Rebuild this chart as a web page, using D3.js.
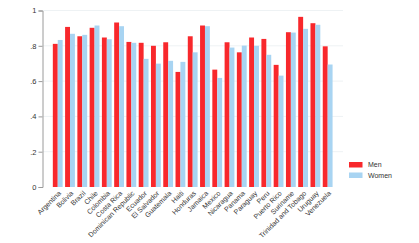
<!DOCTYPE html>
<html><head><meta charset="utf-8">
<script src="https://cdn.jsdelivr.net/npm/d3@7"></script>
<style>body{margin:0;background:#fff}svg{display:block}text{font-family:"Liberation Sans",Arial,sans-serif}</style>
</head><body><svg id="c" width="419" height="243"></svg>
<script>
const countries = ["Argentina","Bolivia","Brazil","Chile","Colombia","Costa Rica","Dominican Republic","Ecuador","El Salvador","Guatemala","Haiti","Honduras","Jamaica","Mexico","Nicaragua","Panama","Paraguay","Peru","Puerto Rico","Suriname","Trinidad and Tobago","Uruguay","Venezuela"];
const men   = [0.811,0.907,0.854,0.902,0.847,0.932,0.822,0.817,0.800,0.820,0.652,0.854,0.915,0.665,0.820,0.763,0.847,0.839,0.692,0.877,0.964,0.928,0.797];
const women = [0.833,0.868,0.862,0.915,0.837,0.911,0.817,0.726,0.699,0.715,0.709,0.763,0.911,0.618,0.790,0.801,0.800,0.749,0.631,0.875,0.896,0.919,0.694];
const yTicks = [0,0.2,0.4,0.6,0.8,1];
const yTickLabels = ["0",".2",".4",".6",".8","1"];
const seriesNames = ["Men","Women"];
const colors = ["#f8282c","#a8d4f2"];

const svg = d3.select("#c");
const y = d3.scaleLinear().domain([0,1]).range([187,10.5]);
const x = d3.scaleBand().domain(countries).range([51.6,333.8]).paddingInner(0.2).paddingOuter(0.1);
const xs = d3.scaleBand().domain(seriesNames).range([0,x.bandwidth()]);

// grid
svg.append("g").selectAll("line").data(yTicks.slice(1)).join("line")
  .attr("x1",43).attr("x2",343).attr("y1",d=>y(d)).attr("y2",d=>y(d))
  .attr("stroke","#eef2f4").attr("stroke-width",1);

// bars
const data = countries.map((c,i)=>({c, vals:[men[i],women[i]]}));
const g = svg.append("g").selectAll("g").data(data).join("g")
  .attr("transform",d=>`translate(${x(d.c)},0)`);
g.selectAll("rect").data(d=>d.vals.map((v,j)=>({v,j}))).join("rect")
  .attr("x",d=>xs(seriesNames[d.j])).attr("width",xs.bandwidth())
  .attr("y",d=>y(d.v)).attr("height",d=>y(0)-y(d.v))
  .attr("fill",d=>colors[d.j]);

// y axis
const ya = svg.append("g").attr("transform","translate(42.5,0)")
  .call(d3.axisLeft(y).tickValues(yTicks).tickFormat((d,i)=>yTickLabels[i]).tickSize(4).tickPadding(2));
ya.select(".domain").attr("stroke","#9a9a9a");
ya.selectAll(".tick line").attr("stroke","#9a9a9a");
ya.selectAll(".tick text").attr("fill","#333").attr("font-size",7.5).attr("font-family","Liberation Sans, Arial, sans-serif");

// x labels
svg.append("g").selectAll("text").data(countries).join("text")
  .attr("transform",d=>`translate(${x(d)+x.bandwidth()/2+2},${192}) rotate(-45)`)
  .attr("text-anchor","end").attr("dy","0.35em")
  .attr("font-size",7).attr("fill","#333").text(d=>d);

// legend
const lg = svg.append("g").selectAll("g").data(seriesNames).join("g")
  .attr("transform",(d,i)=>`translate(349,${162+i*10.5})`);
lg.append("rect").attr("width",13.5).attr("height",5.5).attr("fill",(d,i)=>colors[i]);
lg.append("text").attr("x",19).attr("y",3).attr("dy","0.35em").attr("font-size",7).attr("fill","#333").text(d=>d);
</script></body></html>
